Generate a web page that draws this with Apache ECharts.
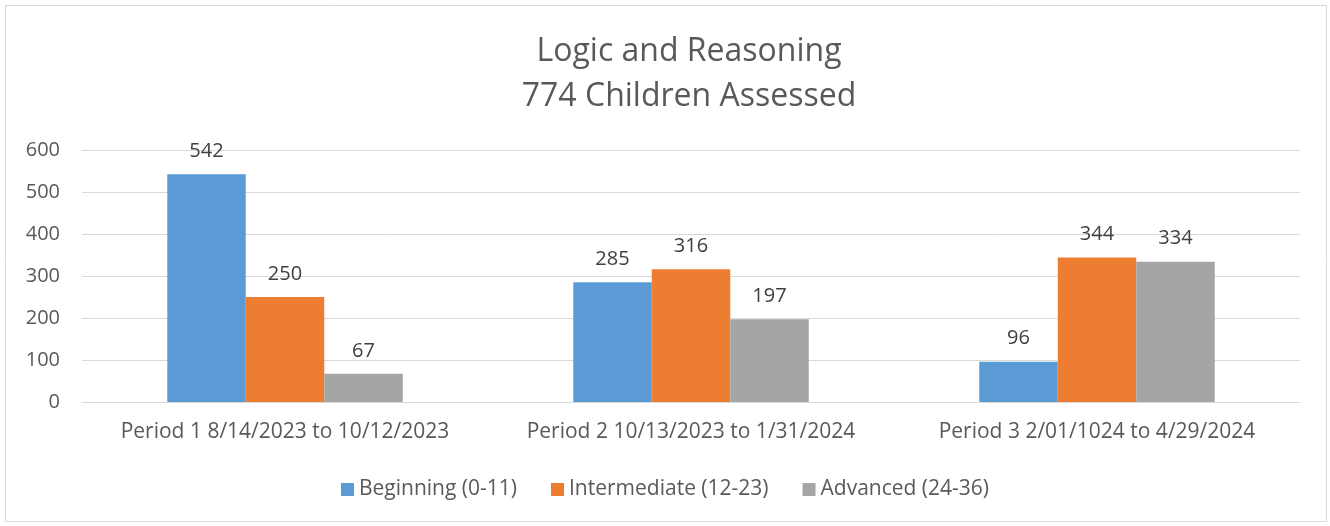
<!DOCTYPE html>
<html>
<head>
<meta charset="utf-8">
<script src="https://cdn.jsdelivr.net/npm/echarts@6/dist/echarts.min.js"></script>
<style>
  html, body { margin: 0; padding: 0; background: #fff; }
  #chart { width: 1330px; height: 526px; }
</style>
</head>
<body>
<div id="chart"></div>
<script>
const categories = ['Period 1 8/14/2023 to 10/12/2023', 'Period 2 10/13/2023 to 1/31/2024', 'Period 3 2/01/1024 to 4/29/2024'];
const seriesNames = ['Beginning (0-11)', 'Intermediate (12-23)', 'Advanced (24-36)'];
const beginning = [542, 285, 96];
const intermediate = [250, 316, 344];
const advanced = [67, 197, 334];
const colors = ['#5B9BD5', '#ED7D31', '#A5A5A5'];

const font = '"Open Sans", sans-serif';
const chart = echarts.init(document.getElementById('chart'));

const makeSeries = (name, data, color) => ({
  name: name,
  type: 'bar',
  data: data,
  barGap: '0%',
  barCategoryGap: '42%',
  itemStyle: { color: color },
  label: {
    show: true,
    position: 'top',
    distance: 13,
    color: '#404040',
    fontSize: 20,
    fontFamily: font
  }
});

chart.setOption({
  animation: false,
  title: {
    text: 'Logic and Reasoning\n774 Children Assessed',
    left: 684,
    top: 24,
    textAlign: 'center',
    textStyle: {
      fontFamily: font,
      fontSize: 32,
      fontWeight: 'normal',
      color: '#595959',
      lineHeight: 45
    }
  },
  graphic: [{
    type: 'rect',
    shape: { x: 5.5, y: 5.5, width: 1321, height: 516 },
    style: { fill: 'none', stroke: '#D9D9D9', lineWidth: 1 },
    silent: true
  }],
  legend: {
    data: seriesNames,
    bottom: 21,
    left: 'center',
    itemWidth: 13,
    itemHeight: 13,
    itemGap: 34,
    icon: 'rect',
    textStyle: { fontFamily: font, fontSize: 21, color: '#595959' }
  },
  grid: { left: 82, right: 30, top: 150, bottom: 124, containLabel: false },
  xAxis: {
    type: 'category',
    data: categories,
    axisLine: { lineStyle: { color: '#D9D9D9' } },
    axisTick: { show: false },
    axisLabel: { interval: 0, fontFamily: font, fontSize: 21, color: '#595959', margin: 20 }
  },
  yAxis: {
    type: 'value',
    min: 0,
    max: 600,
    interval: 100,
    axisLine: { show: false },
    axisTick: { show: false },
    splitLine: { lineStyle: { color: '#D9D9D9' } },
    axisLabel: { fontFamily: font, fontSize: 20, color: '#595959', margin: 22 }
  },
  series: [
    makeSeries(seriesNames[0], beginning, colors[0]),
    makeSeries(seriesNames[1], intermediate, colors[1]),
    makeSeries(seriesNames[2], advanced, colors[2])
  ]
});
</script>
</body>
</html>
